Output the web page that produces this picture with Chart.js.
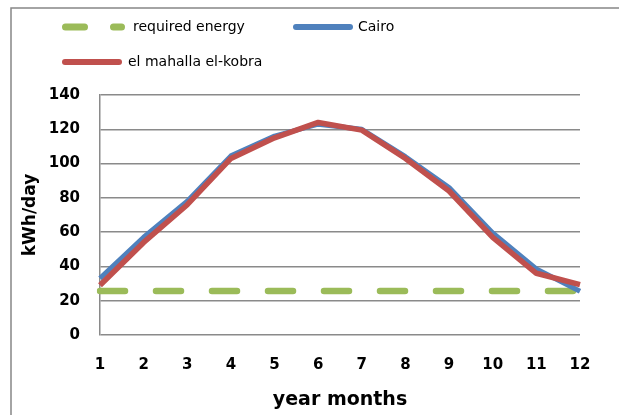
<!DOCTYPE html>
<html>
<head>
<meta charset="utf-8">
<script src="https://cdn.jsdelivr.net/npm/chart.js@4/dist/chart.umd.min.js"></script>
<style>
  html, body { margin: 0; padding: 0; background: #fff; }
  #wrap { width: 619px; height: 415px; position: relative; }
</style>
</head>
<body>
<div id="wrap"><canvas id="c" width="619" height="415"></canvas></div>
<script>
const months = ['1', '2', '3', '4', '5', '6', '7', '8', '9', '10', '11', '12'];
const requiredEnergy = [25.7, 25.7, 25.7, 25.7, 25.7, 25.7, 25.7, 25.7, 25.7, 25.7, 25.7, 25.7];
const cairo = [33, 57, 78, 104.5, 116, 123, 120, 104, 86, 59.5, 38.5, 25.5];
const mahalla = [29, 54, 76, 103, 115, 124, 119.5, 103, 84, 57, 36, 29.4];
const yTicks = [0, 20, 40, 60, 80, 100, 120, 140];

const FONT = "'DejaVu Sans', sans-serif";

const frameAndLegend = {
  id: 'frameAndLegend',
  beforeDraw(chart) {
    const ctx = chart.ctx;
    ctx.save();
    ctx.strokeStyle = '#878787';
    ctx.lineWidth = 1.5;
    ctx.strokeRect(11, 8, 700, 500);
    ctx.restore();
  },
  afterDraw(chart) {
    const ctx = chart.ctx;
    const ds = chart.data.datasets;
    const items = [
      { d: ds[0], x1: 65.5, x2: 121.5, y: 27, w: 7, dash: [19, 29], tx: 133 },
      { d: ds[1], x1: 296, x2: 350, y: 27, w: 6, dash: [], tx: 358 },
      { d: ds[2], x1: 65, x2: 119, y: 62, w: 6, dash: [], tx: 128 }
    ];
    ctx.save();
    items.forEach(it => {
      ctx.beginPath();
      ctx.setLineDash(it.dash);
      ctx.lineCap = 'round';
      ctx.lineWidth = it.w;
      ctx.strokeStyle = it.d.borderColor;
      ctx.moveTo(it.x1, it.y);
      ctx.lineTo(it.x2, it.y);
      ctx.stroke();
      ctx.setLineDash([]);
      ctx.fillStyle = '#000';
      ctx.font = '14px ' + FONT;
      ctx.textAlign = 'left';
      ctx.textBaseline = 'middle';
      ctx.fillText(it.d.label, it.tx, it.y);
    });
    ctx.restore();
  }
};

new Chart(document.getElementById('c'), {
  type: 'line',
  data: {
    labels: months,
    datasets: [
      {
        label: 'required energy',
        data: requiredEnergy,
        borderColor: '#9BBB59',
        borderWidth: 6.5,
        borderDash: [25, 31],
        borderCapStyle: 'round',
        pointRadius: 0,
        tension: 0,
        order: 3
      },
      {
        label: 'Cairo',
        data: cairo,
        borderColor: '#4F81BD',
        borderWidth: 5,
        borderJoinStyle: 'round',
        pointRadius: 0,
        tension: 0,
        order: 2
      },
      {
        label: 'el mahalla el-kobra',
        data: mahalla,
        borderColor: '#C0504D',
        borderWidth: 5.5,
        borderJoinStyle: 'round',
        pointRadius: 0,
        tension: 0,
        order: 1
      }
    ]
  },
  options: {
    responsive: false,
    animation: false,
    devicePixelRatio: 1,
    layout: { padding: { left: 0, top: 95, right: 39, bottom: 0 } },
    plugins: {
      legend: { display: false },
      tooltip: { enabled: false }
    },
    scales: {
      x: {
        offset: false,
        grid: { display: false, drawTicks: false },
        border: { display: false },
        ticks: {
          color: '#000',
          padding: 21,
          maxRotation: 0,
          autoSkip: false,
          font: { family: FONT, size: 15, weight: 'bold' }
        },
        title: {
          display: true,
          text: 'year months',
          color: '#000',
          padding: { top: 0, bottom: 4 },
          font: { family: FONT, size: 19, weight: 'bold' }
        },
        afterFit(scale) { scale.height = 80; }
      },
      y: {
        min: 0,
        max: 140,
        afterBuildTicks(scale) { scale.ticks = yTicks.map(v => ({ value: v })); },
        grid: { color: '#8a8a8a', lineWidth: 1.5, drawTicks: false },
        border: { display: true, color: '#8a8a8a', width: 1.5 },
        ticks: {
          color: '#000',
          padding: 20,
          font: { family: FONT, size: 15, weight: 'bold' }
        },
        title: {
          display: true,
          text: 'kWh/day',
          color: '#000',
          padding: { top: 20, bottom: 0 },
          font: { family: FONT, size: 17, weight: 'bold' }
        },
        afterFit(scale) { scale.width = 100; }
      }
    }
  },
  plugins: [frameAndLegend]
});
</script>
</body>
</html>
